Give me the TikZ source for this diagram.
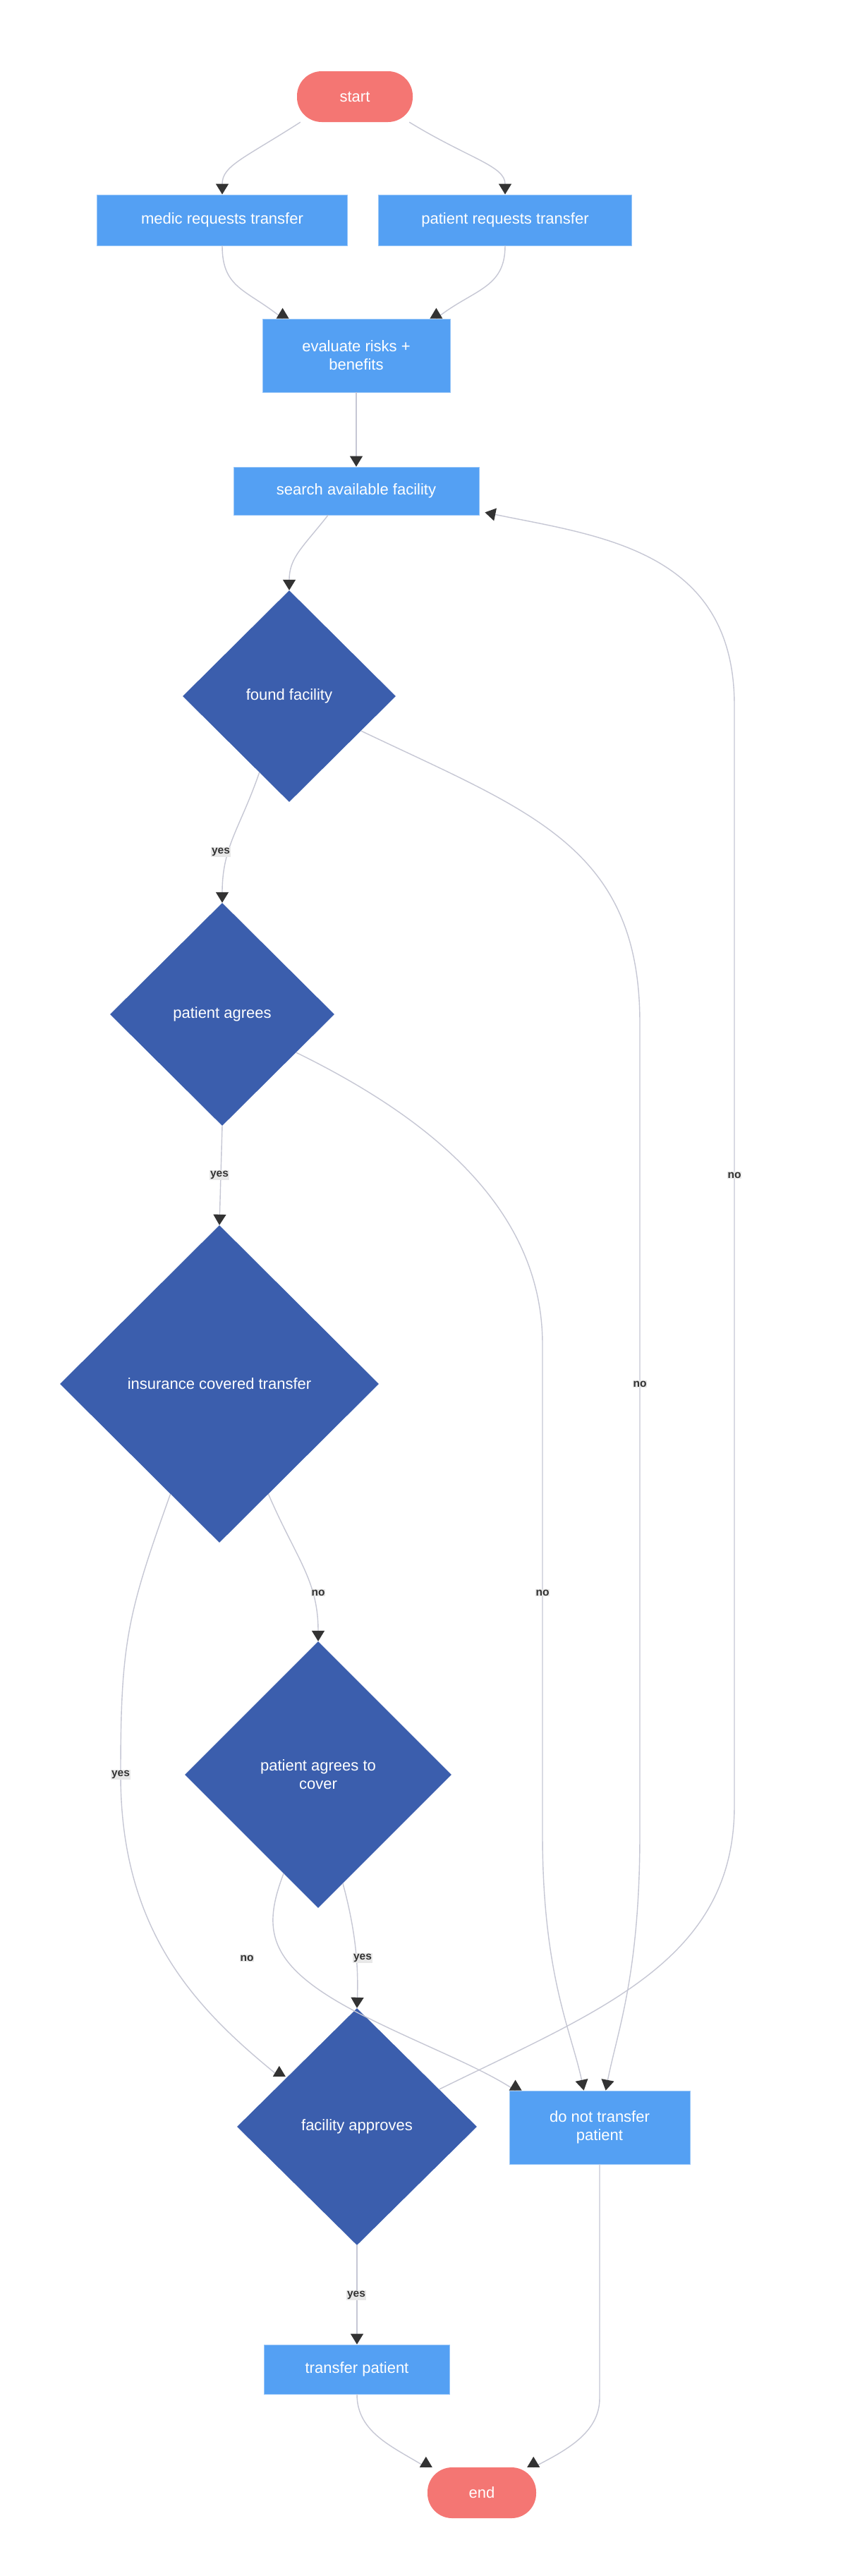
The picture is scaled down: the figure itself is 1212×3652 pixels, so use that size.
\documentclass[tikz,border=0pt]{standalone}
\usepackage{fontspec}
\setmainfont{Liberation Sans}
\usetikzlibrary{shapes.geometric,arrows.meta,calc}
\definecolor{boxblue}{HTML}{54A0F3}
\definecolor{diablue}{HTML}{3B5EAD}
\definecolor{termred}{HTML}{F47673}
\definecolor{edgegray}{HTML}{C6C7D4}
\definecolor{tipdark}{HTML}{333333}
\definecolor{lblbg}{HTML}{E8E8E8}
\newcommand\uptip[1]{\fill[tipdark] ($(#1)+(-9,0)$) -- ($(#1)+(9,0)$) -- ($(#1)+(0,-15)$) -- cycle;}
\begin{document}
\begin{tikzpicture}[x=1pt,y=-1pt,
  every node/.style={font=\fontsize{22}{26}\selectfont, text=white, align=center},
  procbox/.style={rectangle, fill=boxblue, draw=boxblue!60!white, line width=0.8pt, inner sep=0pt},
  termnode/.style={rectangle, rounded corners=35pt, fill=termred, inner sep=0pt, minimum width=164pt, minimum height=72pt},
  decision/.style={diamond, fill=diablue, inner sep=0pt, aspect=1},
  line/.style={draw=edgegray, line width=1.4pt},
  flow/.style={line, -{Triangle[length=15pt,width=18pt,color=tipdark]}},
  lbl/.style={fill=lblbg, text=tipdark, font=\fontsize{15.5}{18}\selectfont\bfseries, inner sep=1pt}
]
\fill[white] (0,0) rectangle (1212,3652);
\useasboundingbox (0,0) rectangle (1212,3652);

% nodes
\node[termnode] (start) at (503,137) {start};
\node[procbox, minimum width=355pt, minimum height=72pt] (medic) at (315,312) {medic requests transfer};
\node[procbox, minimum width=359pt, minimum height=72pt] (patreq) at (716,312) {patient requests transfer};
\node[procbox, minimum width=266pt, minimum height=104pt] (eval) at (505,504) {evaluate risks +\\benefits};
\node[procbox, minimum width=348pt, minimum height=68pt] (search) at (505,696) {search available facility};
\node[decision, minimum width=302pt, minimum height=300pt] (found) at (410,987) {found facility};
\node[decision, minimum width=318pt, minimum height=316pt] (pagree) at (315,1438) {patient agrees};
\node[decision, minimum width=452pt, minimum height=450pt] (insur) at (311,1962) {insurance covered transfer};
\node[decision, minimum width=378pt, minimum height=378pt] (pac) at (451,2516) {patient agrees to\\cover};
\node[decision, minimum width=340pt, minimum height=336pt] (fapp) at (506,3015) {facility approves};
\node[procbox, minimum width=256pt, minimum height=104pt] (dnt) at (850,3016) {do not transfer\\patient};
\node[procbox, minimum width=263pt, minimum height=70pt] (transfer) at (506,3359) {transfer patient};
\node[termnode, minimum width=154pt, minimum height=72pt] (end) at (683,3534) {end};

% tip points of upward-drawn heads
\coordinate (te1) at ($(eval.north west)+(29,0)$);
\coordinate (te2) at ($(eval.north east)+(-20,0)$);
\coordinate (tf) at ($(fapp.north)!0.571!(fapp.west)+(-13,1)$);
\coordinate (td) at ($(dnt.north west)+(9,0)$);
\coordinate (tn1) at ($(end.north west)+(-2,0)$);
\coordinate (tn2) at ($(end.north east)+(-4,0)$);

% edges
\draw[flow] ($(start.south west)+(5,0)$) .. controls (345,225) and (315,235) .. (medic.north);
\draw[flow] ($(start.south east)+(-5,0)$) .. controls (665,225) and (716,235) .. (patreq.north);
\draw[line] (medic.south) .. controls (315,410) and (350,410) .. (te1);
\draw[line] (patreq.south) .. controls (716,410) and (670,410) .. (te2);
\draw[flow] (eval.south) -- (search.north);
\draw[flow] ($(search.south)+(-40,0)$) .. controls (430,775) and (410,790) .. (found.north);
% found -> patient agrees (yes)
\draw[flow] ($(found.south)!0.28!(found.west)$) .. controls (340,1175) and (315,1200) .. (pagree.north);
% patient agrees -> insurance (yes)
\draw[flow] (pagree.south) -- (insur.north);
% insurance -> pac (no)
\draw[flow] ($(insur.south)!0.307!(insur.east)$) .. controls (420,2210) and (451,2240) .. (pac.north);
% insurance -> facility approves (yes)
\draw[line] ($(insur.south)!0.307!(insur.west)$) .. controls (180,2290) and (171,2330) .. (171,2516)
   .. controls (171,2740) and (280,2850) .. (tf);
% pac -> facility approves (yes)
\draw[flow] ($(pac.south)!0.185!(pac.east)$) .. controls (505,2740) and (508,2790) .. (fapp.north);
% pac -> do not transfer (no)
\draw[line] ($(pac.south)!0.259!(pac.west)$) .. controls (370,2740) and (380,2790) .. (520,2860)
   .. controls (600,2900) and (680,2930) .. (td);
% patient agrees -> do not transfer (no)
\draw[flow] ($(pagree.east)!0.342!(pagree.south)$) .. controls (620,1590) and (769,1720) .. (769,1906)
   -- (769,2600) .. controls (769,2800) and (810,2880) .. ($(dnt.north west)+(106,0)$);
% found -> do not transfer (no)
\draw[flow] ($(found.east)!0.327!(found.south)$) .. controls (750,1150) and (907,1200) .. (907,1450)
   -- (907,2600) .. controls (907,2800) and (875,2880) .. ($(dnt.north west)+(137,0)$);
% facility approves -> search (no)
\draw[flow] ($(fapp.north)!0.685!(fapp.east)$) .. controls (850,2850) and (1041,2780) .. (1041,2560)
   -- (1041,1000) .. controls (1041,780) and (850,760) .. ($(search.south east)+(8,-4)$);
% facility approves -> transfer (yes)
\draw[flow] (fapp.south) -- (transfer.north);
% transfer -> end
\draw[line] (transfer.south) .. controls (506,3450) and (560,3470) .. (tn1);
% do not transfer -> end
\draw[line] (dnt.south) -- (850,3400) .. controls (850,3450) and (800,3475) .. (tn2);

% upward heads
\uptip{te1}
\uptip{te2}
\uptip{tf}
\uptip{td}
\uptip{tn1}
\uptip{tn2}

% labels
\node[lbl] (l1) at (313,1208) {yes};
\node[lbl] (l2) at (311,1666) {yes};
\node[lbl] (l3) at (451,2258) {no};
\node[lbl] (l4) at (171,2516) {yes};
\node[lbl] (l5) at (514,2776) {yes};
\node[lbl] (l6) at (350,2776) {no};
\node[lbl] (l7) at (769,2258) {no};
\node[lbl] (l8) at (907,1962) {no};
\node[lbl] (l9) at (1041,1666) {no};
\node[lbl] (l10) at (505,3254) {yes};
\end{tikzpicture}
\end{document}
